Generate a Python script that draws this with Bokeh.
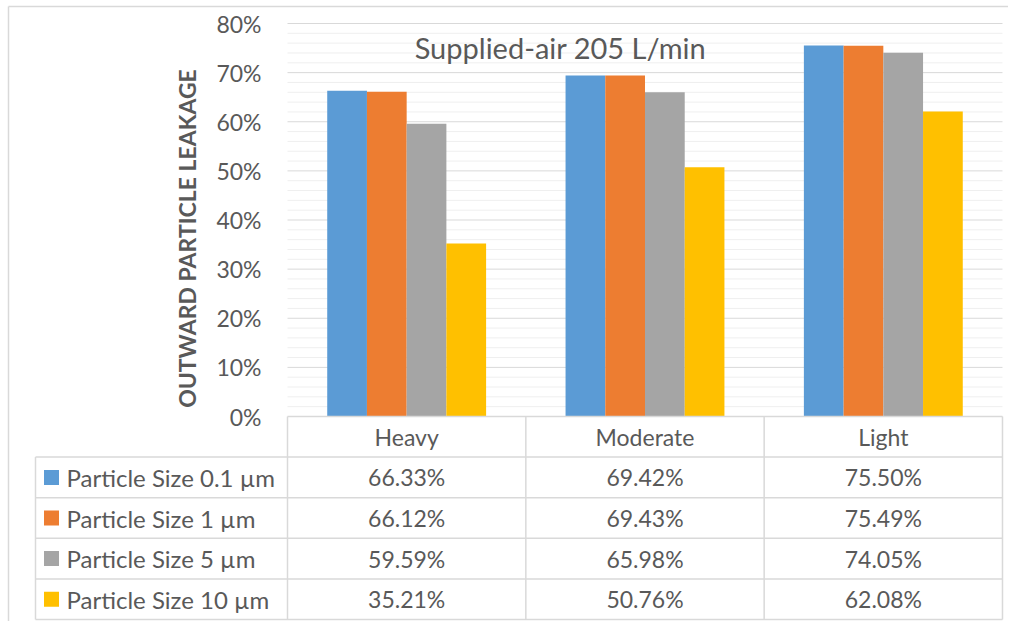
import numpy as np
from bokeh.plotting import figure
from bokeh.models import Range1d
from bokeh.core.properties import value
from bokeh.embed import file_html
from bokeh.resources import INLINE

# ---- data ----
categories = ["Heavy", "Moderate", "Light"]
series_names = ["Particle Size 0.1 µm", "Particle Size 1 µm", "Particle Size 5 µm", "Particle Size 10 µm"]
size_01um = [66.33, 69.42, 75.50]
size_1um = [66.12, 69.43, 75.49]
size_5um = [59.59, 65.98, 74.05]
size_10um = [35.21, 50.76, 62.08]
y_ticks = [0, 10, 20, 30, 40, 50, 60, 70, 80]
title_text = "Supplied-air 205 L/min"
y_title = "OUTWARD PARTICLE LEAKAGE"

series = [size_01um, size_1um, size_5um, size_10um]
colors = ["#5B9BD5", "#ED7D31", "#A5A5A5", "#FFC000"]

FONT = value("Lato")
TXT = "#595959"
GRID_MAJOR = "#d9d9d9"
GRID_MINOR = "#efefef"
BORDER = "#d9d9d9"

# ---- layout (page pixels -> data coords) ----
W, H = 1008, 621
LEFT, TOP = 0, 0
PX_X0, UX = 287.0, 238.33      # page x of category axis start, px per category
PY_Y0, UY = 416.0, 491.25      # page y of 0%, px per unit fraction (1.0 = 100%)
ROW_PX = 40.6

def dx(px):
    return (px - PX_X0) / UX

def dy(py):
    return (PY_Y0 - py) / UY

p = figure(width=W, height=H, output_backend="svg", toolbar_location=None,
           x_axis_type=None, y_axis_type=None,
           x_range=Range1d(dx(LEFT), dx(LEFT + W)),
           y_range=Range1d(dy(TOP + H), dy(TOP)),
           min_border=0)
p.xgrid.visible = False
p.ygrid.visible = False
p.outline_line_color = None
p.background_fill_color = "white"
p.border_fill_color = "white"

# outer chart border (left and top edges visible)
p.segment(x0=[dx(8), dx(8)], x1=[dx(8), dx(LEFT + W)], y0=[dy(6), dy(6)],
          y1=[dy(TOP + H), dy(6)], line_color=BORDER, line_width=1.5)

ncat = len(categories)

# gridlines
minor = [i * 0.02 for i in range(1, 41) if i % 5 != 0]
major = [t / 100.0 for t in y_ticks if t > 0]
p.segment(x0=0, x1=ncat, y0=minor, y1=minor, line_color=GRID_MINOR, line_width=1)
p.segment(x0=0, x1=ncat, y0=major, y1=major, line_color=GRID_MAJOR, line_width=1)

# bars
nser = len(series)
bw = 1.0 / 6.0
centers = np.arange(ncat) + 0.5
for i, (vals, col) in enumerate(zip(series, colors)):
    off = (i - (nser - 1) / 2.0) * bw
    p.vbar(x=centers + off, top=np.array(vals) / 100.0, width=bw,
           fill_color=col, line_color=None)

# y tick labels
p.text(x=[dx(261)] * len(y_ticks), y=[t / 100.0 for t in y_ticks],
       text=[f"{t}%" for t in y_ticks], text_font=FONT, text_font_size="23px",
       text_color=TXT, text_align="right", text_baseline="middle")

# y axis title
p.text(x=[dx(186)], y=[dy(238)], text=[y_title], angle=np.pi / 2,
       text_font=FONT, text_font_size="23px", text_font_style="bold",
       text_color=TXT, text_align="center", text_baseline="middle")

# chart title
p.text(x=[dx(560)], y=[dy(47)], text=[title_text], text_font=FONT,
       text_font_size="29px", text_color=TXT, text_align="center",
       text_baseline="middle")

# ---- data table ----
rh = ROW_PX / UY
nrows = nser + 1
leg_left = dx(35)
# horizontal lines
p.segment(x0=0, x1=ncat, y0=0, y1=0, line_color=BORDER, line_width=1.5)
hy = [-(k) * rh for k in range(1, nrows + 1)]
p.segment(x0=leg_left, x1=ncat, y0=hy, y1=hy, line_color=BORDER, line_width=1.5)
# vertical lines
vx = list(range(ncat + 1))
p.segment(x0=vx, x1=vx, y0=0, y1=-nrows * rh, line_color=BORDER, line_width=1.5)
p.segment(x0=leg_left, x1=leg_left, y0=-rh, y1=-nrows * rh, line_color=BORDER,
          line_width=1.5)

# header
p.text(x=list(centers), y=[-rh / 2] * ncat, text=categories, text_font=FONT,
       text_font_size="23px", text_color=TXT, text_align="center",
       text_baseline="middle")

# rows
for i, (name, vals, col) in enumerate(zip(series_names, series, colors)):
    yc = -(i + 1.5) * rh
    p.scatter(x=[dx(51)], y=[yc], marker="square", size=15, fill_color=col,
              line_color=None)
    p.text(x=[dx(66)], y=[yc], text=[name], text_font=FONT,
           text_font_size="24px", text_color=TXT, text_align="left",
           text_baseline="middle")
    p.text(x=list(centers), y=[yc] * ncat, text=[f"{v:.2f}%" for v in vals],
           text_font=FONT, text_font_size="23px", text_color=TXT,
           text_align="center", text_baseline="middle")

open("out.html", "w").write(file_html(p, INLINE))
